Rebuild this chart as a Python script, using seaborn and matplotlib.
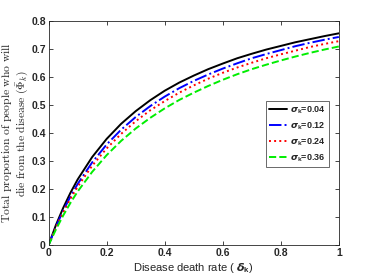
import matplotlib
matplotlib.use("Agg")
import matplotlib.pyplot as plt
import seaborn as sns
import pandas as pd

# Data
delta = [0, 0.025, 0.05, 0.075, 0.1, 0.15, 0.2, 0.25, 0.3, 0.35, 0.4, 0.45,
         0.5, 0.55, 0.6, 0.65, 0.7, 0.75, 0.8, 0.85, 0.9, 0.95, 1.0]
phi_004 = [0, .071, .132, .186, .234, .314, .379, .433, .478, .517, .551, .580,
           .605, .628, .648, .667, .683, .698, .711, .724, .735, .746, .756]
phi_012 = [0, .065, .122, .173, .218, .295, .359, .412, .457, .496, .530, .560,
           .586, .609, .630, .649, .667, .682, .696, .710, .722, .733, .743]
phi_024 = [0, .062, .116, .165, .208, .283, .345, .397, .442, .481, .514, .544,
           .570, .594, .615, .634, .651, .667, .681, .694, .707, .718, .728]
phi_036 = [0, .055, .105, .150, .191, .261, .321, .372, .416, .454, .488, .518,
           .544, .568, .590, .610, .628, .644, .659, .673, .686, .698, .709]
labels = [r"$\sigma_{\rm k}$=0.04", r"$\sigma_{\rm k}$=0.12",
          r"$\sigma_{\rm k}$=0.24", r"$\sigma_{\rm k}$=0.36"]
xticks = [0, 0.2, 0.4, 0.6, 0.8, 1]
yticks = [0, 0.1, 0.2, 0.3, 0.4, 0.5, 0.6, 0.7, 0.8]

sns.set_style("white")
plt.rcParams["font.family"] = ["Liberation Sans", "DejaVu Sans"]
plt.rcParams["mathtext.fontset"] = "custom"
plt.rcParams["mathtext.it"] = "DejaVu Sans:bold:italic"
plt.rcParams["mathtext.rm"] = "Liberation Sans:bold"
plt.rcParams["mathtext.bf"] = "Liberation Sans:bold"

fig = plt.figure(figsize=(3.74, 2.80), dpi=100)
ax = fig.add_axes([0.130, 0.125, 0.776, 0.800])

styles = [("black", "-"), ("#0000ff", "-."), ("#ff0000", ":"), ("#00ee00", "--")]
series = [phi_004, phi_012, phi_024, phi_036]
for vals, lab, (c, ls) in zip(series, labels, styles):
    df = pd.DataFrame({"x": delta, "y": vals})
    sns.lineplot(data=df, x="x", y="y", ax=ax, color=c, linestyle=ls,
                 linewidth=1.4, label=lab)

ax.set_xlim(0, 1)
ax.set_ylim(0, 0.8)
ax.set_xticks(xticks)
ax.set_yticks(yticks)
ax.set_xticklabels(["0", "0.2", "0.4", "0.6", "0.8", "1"])
ax.set_yticklabels(["0", "0.1", "0.2", "0.3", "0.4", "0.5", "0.6", "0.7", "0.8"])
for t in ax.get_xticklabels() + ax.get_yticklabels():
    t.set_fontweight("bold")
    t.set_fontsize(7.5)
    t.set_color("#262626")
ax.tick_params(direction="in", length=3, width=0.6, top=True, right=True,
               bottom=True, left=True, color="#262626", pad=2)
for s in ax.spines.values():
    s.set_color("#262626")
    s.set_linewidth(0.6)

ax.set_xlabel(r"Disease death rate ( $\delta_{\rm k}$)", fontsize=8, color="#262626",
              labelpad=2)
ax.set_ylabel(r"$\mathrm{Total\ proportion\ of\ people\ who\ will}$" + "\n" +
              r"$\mathrm{die\ from\ the\ disease\ (}\bar{\Phi}_k\mathrm{)}$",
              fontsize=8.4, color="#262626", linespacing=1.05)
ax.yaxis.label.set_math_fontfamily("cm")
ax.yaxis.set_label_coords(-0.062, 0.5)

leg = ax.legend(loc="upper right", bbox_to_anchor=(0.9655, 0.643), borderaxespad=0,
                prop={"weight": "bold", "size": 6.5}, frameon=True,
                fancybox=False, edgecolor="#262626", handlelength=2.0,
                handletextpad=0.3, labelspacing=0.5, borderpad=0.35)
leg.get_frame().set_linewidth(0.6)

fig.savefig("out.png", dpi=100, facecolor="white")
